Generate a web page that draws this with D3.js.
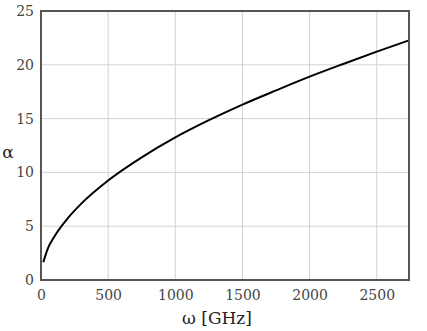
<html><head>
<script src="https://d3js.org/d3.v7.min.js"></script>
<style>
  body { margin: 0; background: white; }
  text { font-family: "DejaVu Serif", serif; }
</style>
</head>
<body>
<svg id="chart" width="427" height="331"></svg>
<script>
  // values
  const omega = [17, 50, 100, 200, 300, 500, 750, 1000, 1250, 1500, 1750, 2000, 2250, 2500, 2740];
  const alpha = [1.65, 2.9, 4.05, 5.75, 7.1, 9.25, 11.4, 13.25, 14.85, 16.3, 17.62, 18.9, 20.08, 21.22, 22.27];
  const xTicks = [0, 500, 1000, 1500, 2000, 2500];
  const yTicks = [0, 5, 10, 15, 20, 25];

  const svg = d3.select("svg#chart");
  const margin = { top: 11, right: 18, bottom: 51, left: 41 };
  const width = 427, height = 331;

  const x = d3.scaleLinear().domain([0, 2740]).range([margin.left, width - margin.right]);
  const y = d3.scaleLinear().domain([0, 25]).range([height - margin.bottom, margin.top]);

  // grid
  svg.append("g").selectAll("line.vgrid").data(xTicks)
    .join("line")
    .attr("x1", d => x(d)).attr("x2", d => x(d))
    .attr("y1", y(0)).attr("y2", y(25))
    .attr("stroke", "#d3d3d3").attr("stroke-width", 1);
  svg.append("g").selectAll("line.hgrid").data(yTicks)
    .join("line")
    .attr("x1", x(0)).attr("x2", x(2740))
    .attr("y1", d => y(d)).attr("y2", d => y(d))
    .attr("stroke", "#d3d3d3").attr("stroke-width", 1);

  // curve
  const pts = omega.map((w, i) => [w, alpha[i]]);
  const line = d3.line().x(d => x(d[0])).y(d => y(d[1])).curve(d3.curveMonotoneX);
  svg.append("path").datum(pts)
    .attr("fill", "none")
    .attr("stroke", "black")
    .attr("stroke-width", 2)
    .attr("d", line);

  // frame
  svg.append("rect")
    .attr("x", x(0)).attr("y", y(25))
    .attr("width", x(2740) - x(0)).attr("height", y(0) - y(25))
    .attr("fill", "none").attr("stroke", "#555").attr("stroke-width", 2);

  // tick labels
  const xAxis = d3.axisBottom(x).tickValues(xTicks).tickFormat(d3.format("d")).tickSize(0).tickPadding(10);
  const gx = svg.append("g").attr("transform", `translate(0,${y(0)})`).call(xAxis);
  const yAxis = d3.axisLeft(y).tickValues(yTicks).tickFormat(d3.format("d")).tickSize(0).tickPadding(7);
  const gy = svg.append("g").attr("transform", `translate(${x(0)},0)`).call(yAxis);
  [gx, gy].forEach(g => {
    g.select(".domain").remove();
    g.selectAll("text").attr("font-family", "DejaVu Serif").attr("font-size", 14).attr("fill", "#444");
  });

  svg.append("text")
    .attr("x", 217).attr("y", 324)
    .attr("text-anchor", "middle")
    .attr("font-size", 17).attr("fill", "#222")
    .text("ω [GHz]");
  svg.append("text")
    .attr("x", 8).attr("y", 158)
    .attr("text-anchor", "middle")
    .attr("font-size", 17).attr("fill", "#222")
    .text("α");
</script>
</body>
</html>
